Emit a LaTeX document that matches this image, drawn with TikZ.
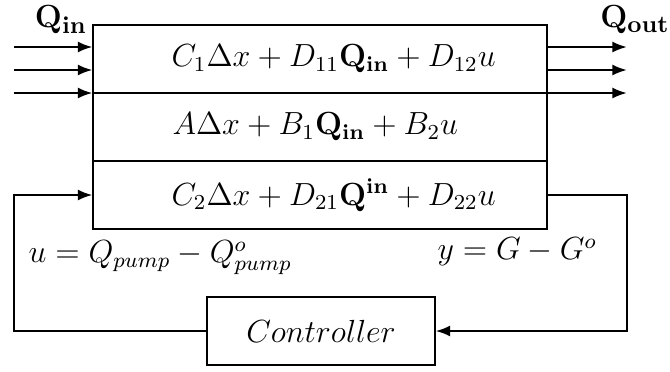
\documentclass[tikz,border=0pt]{standalone}
\usetikzlibrary{arrows.meta}
\begin{document}
\begin{tikzpicture}[x=0.375pt,y=-0.375pt,
  every node/.style={font=\fontsize{11.5pt}{14pt}\selectfont},
  blk/.style={draw,line width=0.4pt,minimum width=170.25pt,minimum height=25.5pt,inner sep=0pt},
  ctl/.style={draw,line width=0.4pt,minimum width=85.5pt,minimum height=25.5pt,inner sep=0pt},
  txt/.style={anchor=west,inner sep=0pt},
  qlab/.style={font=\fontsize{12.5pt}{15pt}\selectfont,inner sep=0pt},
  arr/.style={line width=0.9pt,-{Latex[length=5.5pt,width=4.2pt]}}]
\useasboundingbox (0,0) rectangle (670,371);
\node[blk] (r1) at (320,59) {};
\node[blk] (r2) at (320,127) {};
\node[blk] (r3) at (320,195) {};
\node[txt] (t1) at (171,59) {$C_1\Delta x + D_{11}\mathbf{Q_{in}} + D_{12}u$};
\node[txt] (t2) at (172,127) {$A\Delta x + B_1\mathbf{Q_{in}} + B_2u$};
\node[txt] (t3) at (171,195) {$C_2\Delta x + D_{21}\mathbf{Q^{in}} + D_{22}u$};
\node[ctl] (ctrl) at (321,331) {$Controller$};
\node[qlab] (qin) at (61,20) {$\mathbf{Q_{in}}$};
\node[qlab] (qout) at (635,20) {$\mathbf{Q_{out}}$};
\node[anchor=west,inner sep=0pt] (ul) at (28,258) {$u = Q_{pump} - Q^o_{pump}$};
\node[anchor=west,inner sep=0pt] (yl) at (437,252) {$y = G - G^o$};
\coordinate (i1) at (14,47);
\coordinate (i2) at (14,70);
\coordinate (i3) at (14,93);
\coordinate (o1) at (627,47);
\coordinate (o2) at (627,70);
\coordinate (o3) at (627,93);
\draw[arr] (i1) -- (i1 -| r1.west);
\draw[arr] (i2) -- (i2 -| r1.west);
\draw[arr] (i3) -- (i3 -| r1.west);
\draw[arr] (o1 -| r1.east) -- (o1);
\draw[arr] (o2 -| r1.east) -- (o2);
\draw[arr] (o3 -| r1.east) -- (o3);
\coordinate (fl) at (14,195);
\coordinate (fr) at (627,195);
\draw[arr] (ctrl.west) -| (fl) -- (r3.west);
\draw[arr] (r3.east) -- (fr) |- (ctrl.east);
\end{tikzpicture}
\end{document}
